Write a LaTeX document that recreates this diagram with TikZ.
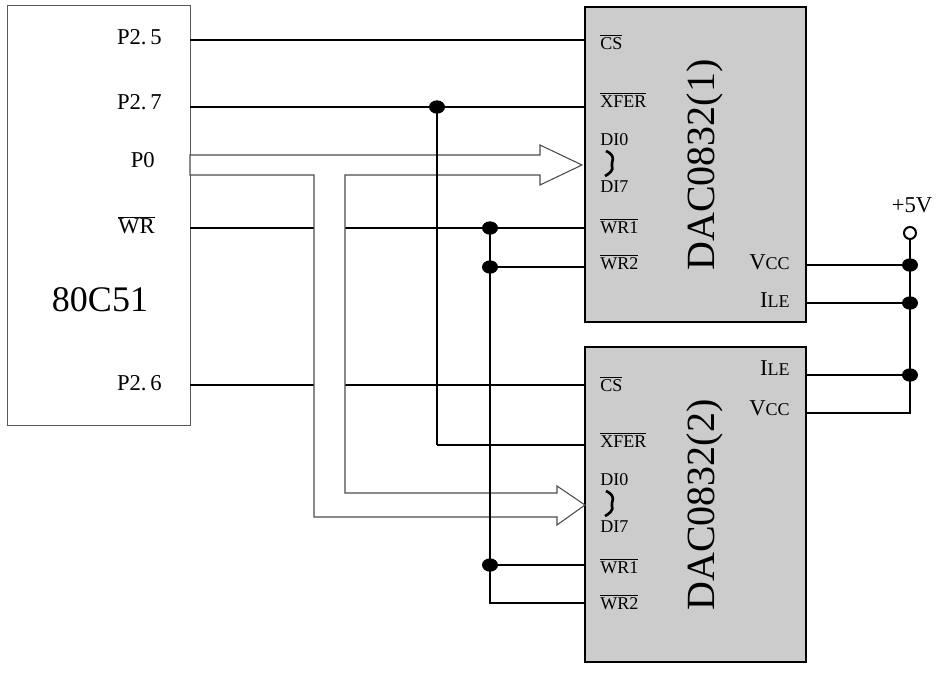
\documentclass[tikz,border=0pt]{standalone}
\usepackage{fontspec}
\setmainfont{Liberation Serif}
\usetikzlibrary{shapes.geometric}
\begin{document}
\begin{tikzpicture}[x=0.75pt,y=-0.75pt,
  wire/.style={line width=1.6pt},
  chip/.style={draw,line width=1.8pt,fill=black!20},
  dot/.style={fill=black,ellipse,inner sep=0pt,minimum width=12pt,minimum height=10pt},
  pin/.style={anchor=west,inner sep=0pt,font=\fontsize{13.5}{13.5}\selectfont},
  port/.style={anchor=east,inner sep=0pt,font=\fontsize{17}{17}\selectfont}]
\useasboundingbox (0,0) rectangle (947,672);
% boxes
\draw[gray!70!black] (7,5) rectangle (190,425);
\node[chip,minimum width=221*0.75pt,minimum height=315*0.75pt,inner sep=0pt] (c1) at (695.5,164.5) {};
\node[chip,minimum width=221*0.75pt,minimum height=315*0.75pt,inner sep=0pt] (c2) at (695.5,504.5) {};
% 80C51 labels
\node[port] at (162,37) {P2.\,5};
\node[port] at (162,102) {P2.\,7};
\node[port] at (155,160) {P0};
\node[port] at (155,225) {$\overline{\mbox{WR}}$};
\node[font=\fontsize{27}{27}\selectfont] at (100,300) {80C51};
\node[port] at (162,383) {P2.\,6};
% coordinates
\coordinate (a) at (437,107);
\coordinate (b) at (490,228);
\coordinate (pv) at (910,233);
% horizontal wires
\draw[wire] (190,40) -- (585,40);
\draw[wire] (190,107) -- (585,107);
\draw[wire] (190,228) -- (585,228);
\draw[wire] (490,267) -- (585,267);
\draw[wire] (190,385) -- (585,385);
\draw[wire] (437,445) -- (585,445);
\draw[wire] (490,565) -- (585,565);
% bus
\draw[gray!60!black,fill=white,line width=0.8pt] (190,155) -- (540,155) -- (540,145) -- (582,165) -- (540,185) -- (540,175) -- (345,175) -- (345,493) -- (557,493) -- (557,486) -- (585,505) -- (557,525) -- (557,517) -- (314,517) -- (314,175) -- (190,175) -- cycle;
% verticals
\draw[wire] (a) -- (437,445);
\draw[wire] (b) -- (490,603) -- (585,603);
\node[dot] at (a) {};
\node[dot] at (b) {};
\node[dot] at (490,267) {};
\node[dot] at (490,565) {};
% power
\draw[wire] (806,265) -- (910,265);
\draw[wire] (806,303) -- (910,303);
\draw[wire] (806,375) -- (910,375);
\draw[wire] (806,413) -- (910,413) -- (910,239);
\node[draw,circle,line width=1.5pt,fill=white,minimum size=9pt,inner sep=0pt] (v5) at (pv) {};
\node[font=\fontsize{17}{17}\selectfont] at (912,205) {+5V};
\node[dot] at (910,265) {};
\node[dot] at (910,303) {};
\node[dot] at (910,375) {};
% chip labels
\node[pin] at (600,42) {$\overline{\mbox{CS}}$};
\node[pin] at (600,100) {$\overline{\mbox{XFER}}$};
\node[pin] at (600,140) {DI0};
\draw[line width=2pt] (606,151) .. controls (618,156) and (610,164) .. (612,166) .. controls (614,170) and (609,174) .. (605,176);
\node[pin] at (600,187) {DI7};
\node[pin] at (600,226) {$\overline{\mbox{WR1}}$};
\node[pin] at (600,262) {$\overline{\mbox{WR2}}$};
\node[rotate=90,font=\fontsize{30}{30}\selectfont] at (705,165) {DAC0832(1)};
\node[port] at (790,262) {V{\fontsize{13.5}{13.5}\selectfont CC}};
\node[port] at (790,300) {I{\fontsize{13.5}{13.5}\selectfont LE}};
\node[pin] at (600,384) {$\overline{\mbox{CS}}$};
\node[pin] at (600,440) {$\overline{\mbox{XFER}}$};
\node[pin] at (600,480) {DI0};
\draw[line width=2pt] (606,491) .. controls (618,496) and (610,504) .. (612,506) .. controls (614,510) and (609,514) .. (605,516);
\node[pin] at (600,527) {DI7};
\node[pin] at (600,566) {$\overline{\mbox{WR1}}$};
\node[pin] at (600,602) {$\overline{\mbox{WR2}}$};
\node[rotate=90,font=\fontsize{30}{30}\selectfont] at (705,505) {DAC0832(2)};
\node[port] at (790,368) {I{\fontsize{13.5}{13.5}\selectfont LE}};
\node[port] at (790,408) {V{\fontsize{13.5}{13.5}\selectfont CC}};
\end{tikzpicture}
\end{document}
